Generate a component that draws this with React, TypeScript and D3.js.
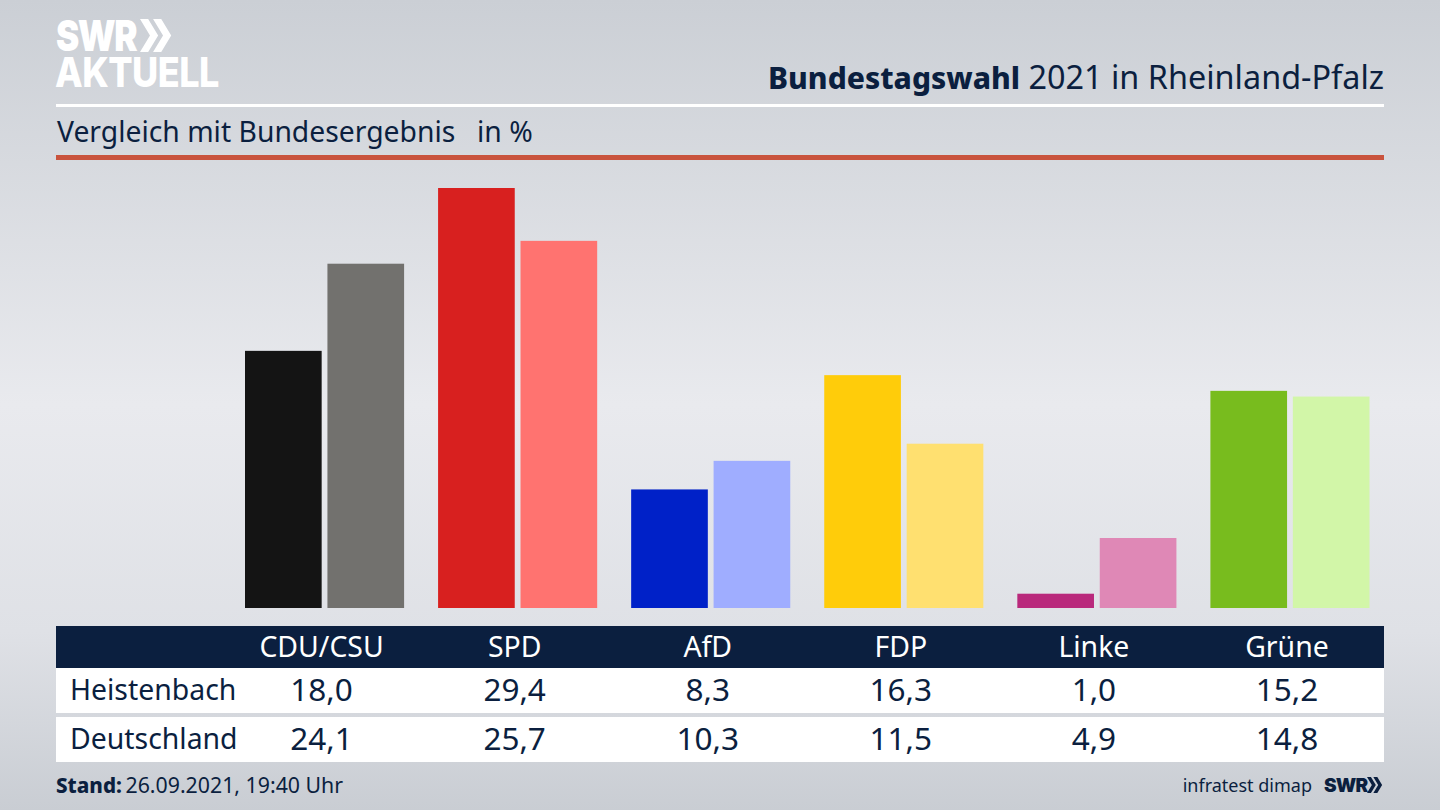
import * as d3 from 'd3';

const parties = ['CDU/CSU', 'SPD', 'AfD', 'FDP', 'Linke', 'Grüne'];
const regions = ['Heistenbach', 'Deutschland'];
const heistenbach = [18.0, 29.4, 8.3, 16.3, 1.0, 15.2];
const deutschland = [24.1, 25.7, 10.3, 11.5, 4.9, 14.8];
const darkColors = ['#141414', '#d8201f', '#0021c8', '#ffcc0a', '#b9297c', '#78bc1e'];
const lightColors = ['#72716e', '#ff7370', '#9fadff', '#ffe070', '#df88b6', '#d2f6a8'];

const width = 1440;
const height = 810;
const navy = '#0b1f3f';
const font = "'Noto Sans', sans-serif";

const yScale = d3.scaleLinear().domain([0, 29.4]).range([608, 188]);
const xScale = d3.scaleBand().domain(parties).range([245, 1369.5]).paddingInner(0.176);
const seriesScale = d3.scaleBand().domain(regions).range([0, xScale.bandwidth()]).paddingInner(0.07);

const fmt = (v: number) => v.toFixed(1).replace('.', ',');
// table columns sit a little left of the bar groups
const colX = (p: string) => (xScale(p) as number) + xScale.bandwidth() / 2 - 3;

function Chevrons({ x, y, h, fill }: { x: number; y: number; h: number; fill: string }) {
    const w = h * 0.55;
    const t = w * 0.45;
    const chevron = (ox: number) =>
        `M${ox},${y} L${ox + t},${y} L${ox + w},${y + h / 2} L${ox + t},${y + h} L${ox},${y + h} L${ox + w - t},${y + h / 2} Z`;
    return (
        <g fill={fill}>
            <path d={chevron(x)} />
            <path d={chevron(x + w * 0.72)} />
        </g>
    );
}

export default function App() {
    const rows = [heistenbach, deutschland];

    return (
        <svg
            viewBox={`0 0 ${width} ${height}`}
            width={width}
            height={height}
            style={{ position: 'absolute', left: 0, top: 0 }}
            fontFamily={font}
        >
            <defs>
                <linearGradient id='bg' x1='0' y1='0' x2='0' y2='1'>
                    <stop offset='0' stopColor='#cbcfd5' />
                    <stop offset='0.5' stopColor='#e9eaee' />
                    <stop offset='0.78' stopColor='#dfe1e6' />
                    <stop offset='1' stopColor='#c9cdd3' />
                </linearGradient>
            </defs>
            <rect width={width} height={height} fill='url(#bg)' />

            {/* logo, letters are taller than the font so stretch them */}
            <text
                transform='translate(56,51) scale(1,1.22)'
                fill='#fff'
                fontFamily="Inter, sans-serif"
                fontWeight={900}
                fontSize={35}
                letterSpacing={-1.5}
            >
                SWR
            </text>
            <Chevrons x={140} y={19} h={33} fill='#fff' />
            <text
                transform='translate(55,87) scale(1,1.16)'
                fill='#fff'
                fontFamily="Inter, sans-serif"
                fontWeight={800}
                fontSize={36}
                letterSpacing={-0.5}
            >
                AKTUELL
            </text>

            {/* header */}
            <text x={1384} y={89} textAnchor='end' fill={navy} fontSize={32.4}>
                <tspan fontWeight={800} fontSize={30}>Bundestagswahl</tspan> 2021 in Rheinland-Pfalz
            </text>
            <rect x={56} y={104} width={1328} height={3} fill='#fff' />
            <text x={57} y={142} fill={navy} fontSize={28.3}>
                Vergleich mit Bundesergebnis
            </text>
            <text x={477} y={142} fill={navy} fontSize={28.3}>
                in %
            </text>
            <rect x={56} y={155} width={1328} height={5} fill='#c9533d' />

            {/* bars */}
            {parties.map((p, i) => (
                <g key={p} transform={`translate(${xScale(p)},0)`}>
                    {rows.map((row, r) => (
                        <rect
                            key={regions[r]}
                            x={seriesScale(regions[r])}
                            y={yScale(row[i])}
                            width={seriesScale.bandwidth()}
                            height={yScale(0) - yScale(row[i])}
                            fill={r === 0 ? darkColors[i] : lightColors[i]}
                        />
                    ))}
                </g>
            ))}

            {/* table */}
            <rect x={56} y={626} width={1328} height={42} fill={navy} />
            <rect x={56} y={668} width={1328} height={45} fill='#fff' />
            <rect x={56} y={717} width={1328} height={45} fill='#fff' />
            {parties.map((p) => (
                <text key={p} x={colX(p)} y={657} textAnchor='middle' fill='#fff' fontSize={28.4}>
                    {p}
                </text>
            ))}
            {regions.map((name, r) => (
                <g key={name} fill={navy}>
                    <text x={70} y={700 + r * 49} fontSize={28.4}>
                        {name}
                    </text>
                    {parties.map((p, i) => (
                        <text key={p} x={colX(p)} y={701 + r * 49} textAnchor='middle' fontSize={31.5}>
                            {fmt(rows[r][i])}
                        </text>
                    ))}
                </g>
            ))}

            {/* footer */}
            <text x={56} y={793} fill={navy} fontSize={21.3}>
                <tspan fontWeight={800} fontSize={20.6}>Stand:</tspan>
                <tspan dx={-2}> 26.09.2021, 19:40 Uhr</tspan>
            </text>
            <text x={1312} y={792} textAnchor='end' fill={navy} fontSize={18}>
                infratest dimap
            </text>
            <text x={1324} y={792} fill={navy} fontFamily="Inter, sans-serif" fontWeight={900} fontSize={19} letterSpacing={-0.8}>
                SWR
            </text>
            <Chevrons x={1367} y={777} h={16} fill={navy} />
        </svg>
    );
}
